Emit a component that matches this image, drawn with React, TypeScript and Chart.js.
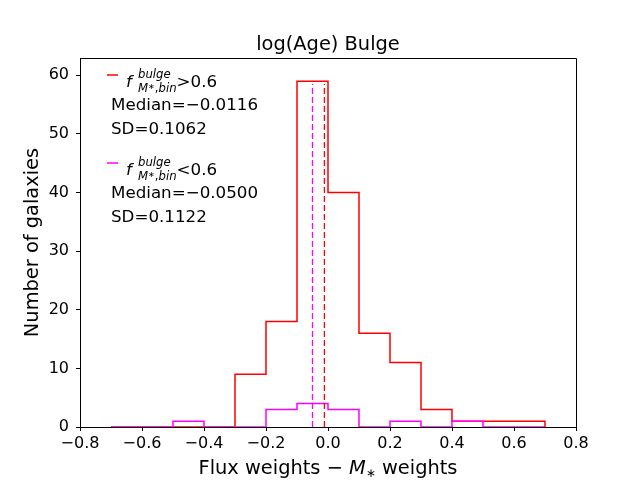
import { useEffect, useRef } from 'react';
import { Chart, ChartConfiguration, Plugin, registerables } from 'chart.js';

Chart.register(...registerables);

// bin edges of both histograms
const binEdges = [-0.7, -0.6, -0.5, -0.4, -0.3, -0.2, -0.1, 0.0, 0.1, 0.2, 0.3, 0.4, 0.5, 0.6, 0.7];
// counts per bin, f_bulge > 0.6
const highCounts = [0, 0, 0, 0, 9, 18, 59, 40, 16, 11, 3, 1, 1, 1];
// counts per bin, f_bulge < 0.6
const lowCounts = [0, 0, 1, 0, 0, 3, 4, 3, 0, 1, 0, 1, 0, 0];

const highMedian = -0.0116;
const lowMedian = -0.05;
const medianTop = 58.5;

const highStats = ['Median=\u22120.0116', 'SD=0.1062'];
const lowStats = ['Median=\u22120.0500', 'SD=0.1122'];

const FONT = '"DejaVu Sans", sans-serif';
const RED = '#ff0000';
const MAGENTA = '#ff00ff';

function stepPoints(edges: number[], counts: number[]) {
  const pts = [{ x: edges[0], y: 0 }];
  counts.forEach((c, i) => {
    pts.push({ x: edges[i], y: c }, { x: edges[i + 1], y: c });
  });
  pts.push({ x: edges[edges.length - 1], y: 0 });
  return pts;
}

function drawLegendBlock(ctx: CanvasRenderingContext2D, dy: number, color: string, sign: string, stats: string[]) {
  ctx.save();
  ctx.strokeStyle = color;
  ctx.lineWidth = 1.5;
  ctx.beginPath();
  ctx.moveTo(107, 75 + dy);
  ctx.lineTo(118, 75 + dy);
  ctx.stroke();

  ctx.fillStyle = '#000';
  ctx.textAlign = 'left';
  ctx.textBaseline = 'alphabetic';
  ctx.font = `italic 16.7px ${FONT}`;
  ctx.fillText('f', 126, 87 + dy);

  const sx = 138;
  ctx.font = `italic 11.7px ${FONT}`;
  ctx.fillText('bulge', sx, 78 + dy);
  const wSup = ctx.measureText('bulge').width;
  ctx.fillText('M', sx, 91.5 + dy);
  let x = sx + ctx.measureText('M').width;
  ctx.font = `8px ${FONT}`;
  ctx.fillText('\u2217', x, 89 + dy);
  x += ctx.measureText('\u2217').width;
  ctx.font = `11.7px ${FONT}`;
  ctx.fillText(',', x, 91.5 + dy);
  x += ctx.measureText(',').width;
  ctx.font = `italic 11.7px ${FONT}`;
  ctx.fillText('bin', x, 91.5 + dy);
  x += ctx.measureText('bin').width;
  const endX = Math.max(x, sx + wSup);

  ctx.font = `16.7px ${FONT}`;
  ctx.fillText(sign + '0.6', endX, 87 + dy);
  ctx.fillText(stats[0], 111, 110 + dy);
  ctx.fillText(stats[1], 111, 134 + dy);
  ctx.restore();
}

const decorPlugin: Plugin = {
  id: 'decor',
  afterDraw(chart) {
    const { ctx, chartArea } = chart;
    const cx = (chartArea.left + chartArea.right) / 2;
    const cy = (chartArea.top + chartArea.bottom) / 2;

    // top and right spines
    ctx.save();
    ctx.strokeStyle = '#000';
    ctx.lineWidth = 1;
    ctx.beginPath();
    ctx.moveTo(chartArea.left, chartArea.top + 0.5);
    ctx.lineTo(chartArea.right + 0.5, chartArea.top + 0.5);
    ctx.lineTo(chartArea.right + 0.5, chartArea.bottom);
    ctx.stroke();

    ctx.fillStyle = '#000';
    ctx.textBaseline = 'alphabetic';

    // title
    ctx.textAlign = 'center';
    ctx.font = `19.4px ${FONT}`;
    ctx.fillText('log(Age) Bulge', cx, 50);

    // y label
    ctx.save();
    ctx.translate(38, cy);
    ctx.rotate(-Math.PI / 2);
    ctx.font = `19.4px ${FONT}`;
    ctx.fillText('Number of galaxies', 0, 0);
    ctx.restore();

    // x label with italic M and subscript star
    ctx.textAlign = 'left';
    const parts: [string, string, number][] = [
      ['Flux weights \u2212 ', `19.4px ${FONT}`, 0],
      ['M', `italic 19.4px ${FONT}`, 0],
      ['\u2217', `12px ${FONT}`, 3],
      [' weights', `19.4px ${FONT}`, 0],
    ];
    let total = 0;
    parts.forEach(([t, f]) => {
      ctx.font = f;
      total += ctx.measureText(t).width;
    });
    let x = cx - total / 2;
    parts.forEach(([t, f, off]) => {
      ctx.font = f;
      ctx.fillText(t, x, 474 + off);
      x += ctx.measureText(t).width;
    });
    ctx.restore();

    drawLegendBlock(ctx, 0, RED, '>', highStats);
    drawLegendBlock(ctx, 88, MAGENTA, '<', lowStats);
  },
};

export default function App() {
  const canvasRef = useRef<HTMLCanvasElement>(null);
  const chartRef = useRef<Chart | null>(null);

  useEffect(() => {
    document.body.style.margin = '0';
    if (!canvasRef.current) return;
    if (chartRef.current) chartRef.current.destroy();

    const config: ChartConfiguration = {
      type: 'line',
      data: {
        datasets: [
          {
            data: [{ x: lowMedian, y: 0 }, { x: lowMedian, y: medianTop }],
            borderColor: MAGENTA,
            borderWidth: 1.3,
            borderDash: [6, 3],
            pointRadius: 0,
            order: 1,
          },
          {
            data: [{ x: highMedian, y: 0 }, { x: highMedian, y: medianTop }],
            borderColor: RED,
            borderWidth: 1.3,
            borderDash: [6, 3],
            pointRadius: 0,
            order: 2,
          },
          {
            data: stepPoints(binEdges, lowCounts),
            borderColor: MAGENTA,
            borderWidth: 1.5,
            pointRadius: 0,
            order: 3,
          },
          {
            data: stepPoints(binEdges, highCounts),
            borderColor: RED,
            borderWidth: 1.5,
            pointRadius: 0,
            order: 4,
          },
        ],
      },
      options: {
        animation: false,
        responsive: true,
        maintainAspectRatio: false,
        layout: { padding: { top: 58, right: 64, left: 0, bottom: 0 } },
        plugins: {
          legend: { display: false },
          tooltip: { enabled: false },
        },
        scales: {
          x: {
            type: 'linear',
            min: -0.8,
            max: 0.8,
            afterFit: (s) => {
              s.height = 53;
            },
            border: { color: '#000', width: 1 },
            grid: { drawOnChartArea: false, tickLength: 4, tickColor: '#000' },
            ticks: {
              stepSize: 0.2,
              padding: 3,
              color: '#000',
              font: { family: FONT, size: 16 },
              callback: (v) => {
                const n = Number(v);
                if (Math.abs(n) < 1e-9) return '0.0';
                return n.toFixed(1).replace('-', '\u2212');
              },
            },
          },
          y: {
            type: 'linear',
            min: 0,
            max: 62.95,
            afterFit: (s) => {
              s.width = 80;
            },
            border: { color: '#000', width: 1 },
            grid: { drawOnChartArea: false, tickLength: 4, tickColor: '#000' },
            ticks: {
              stepSize: 10,
              includeBounds: false,
              padding: 7,
              color: '#000',
              font: { family: FONT, size: 16 },
            },
          },
        },
      },
      plugins: [decorPlugin],
    };

    chartRef.current = new Chart(canvasRef.current, config);

    return () => {
      if (chartRef.current) {
        chartRef.current.destroy();
        chartRef.current = null;
      }
    };
  }, []);

  return (
    <div style={{ position: 'relative', width: '640px', height: '480px', background: '#fff' }}>
      <canvas ref={canvasRef}></canvas>
    </div>
  );
}
